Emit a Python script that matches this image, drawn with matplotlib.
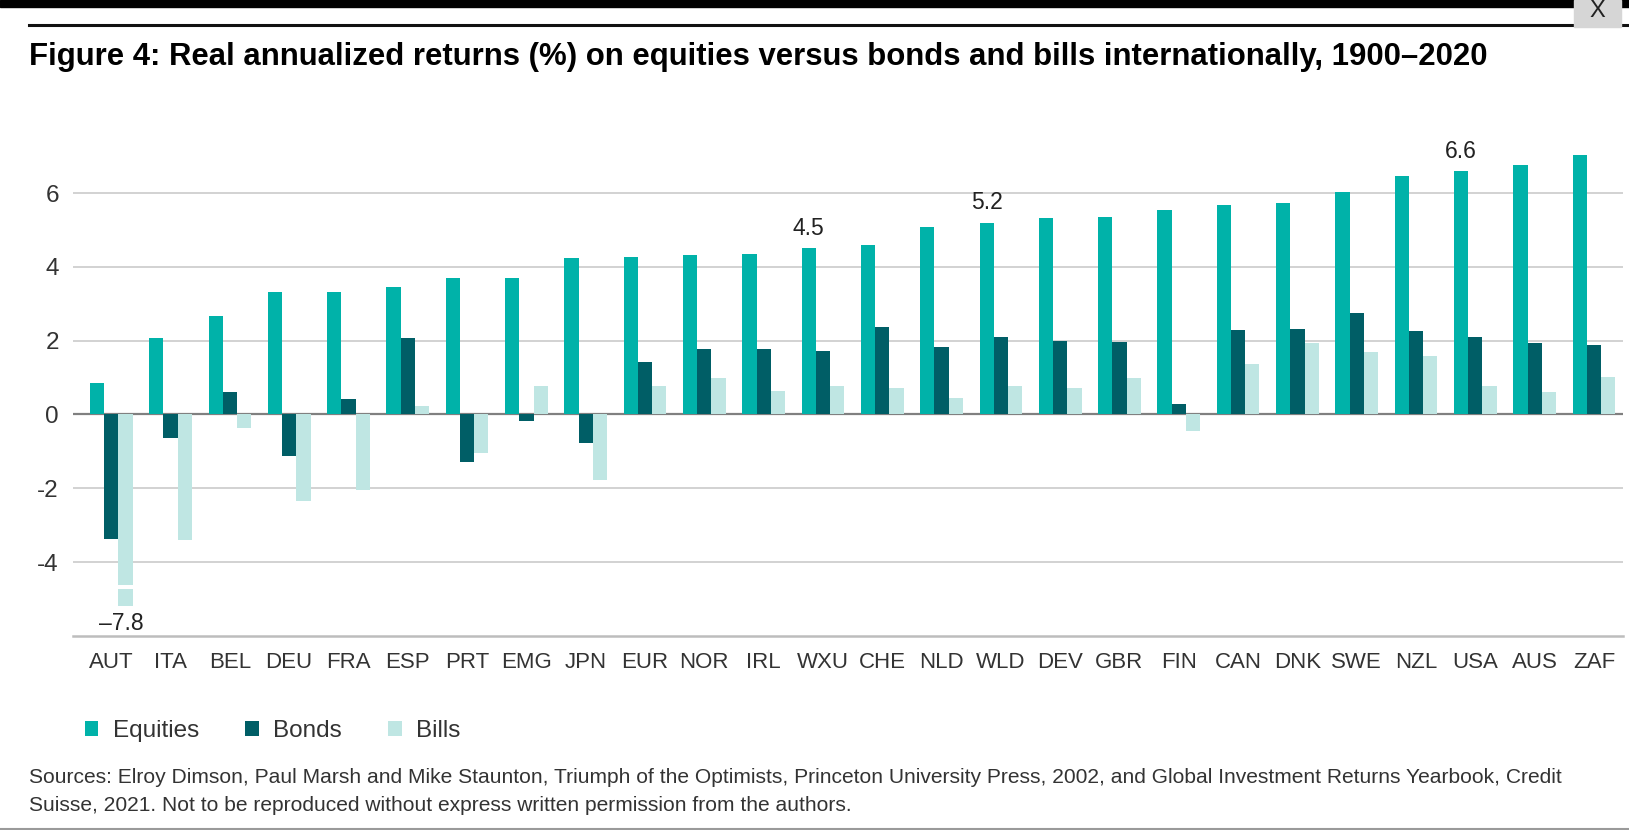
import numpy as np
import matplotlib.pyplot as plt
from matplotlib.patches import Rectangle
from matplotlib.lines import Line2D

countries = ["AUT", "ITA", "BEL", "DEU", "FRA", "ESP", "PRT", "EMG", "JPN", "EUR",
             "NOR", "IRL", "WXU", "CHE", "NLD", "WLD", "DEV", "GBR", "FIN", "CAN",
             "DNK", "SWE", "NZL", "USA", "AUS", "ZAF"]
equities = [0.85, 2.08, 2.66, 3.32, 3.32, 3.45, 3.69, 3.69, 4.23, 4.26,
            4.33, 4.34, 4.5, 4.59, 5.07, 5.2, 5.33, 5.35, 5.53, 5.67,
            5.73, 6.02, 6.45, 6.6, 6.75, 7.04]
bonds = [-3.37, -0.64, 0.62, -1.12, 0.41, 2.06, -1.29, -0.19, -0.77, 1.43,
         1.78, 1.76, 1.71, 2.36, 1.83, 2.10, 2.00, 1.95, 0.29, 2.29,
         2.32, 2.75, 2.27, 2.09, 1.93, 1.88]
bills = [-7.8, -3.40, -0.36, -2.34, -2.05, 0.23, -1.05, 0.76, -1.79, 0.77,
         0.98, 0.64, 0.77, 0.71, 0.44, 0.77, 0.72, 1.00, -0.46, 1.38,
         1.93, 1.68, 1.59, 0.77, 0.62, 1.01]
series_names = ["Equities", "Bonds", "Bills"]
labelled_equities = ["WXU", "WLD", "USA"]
yticks = [-4, -2, 0, 2, 4, 6]

title = "Figure 4: Real annualized returns (%) on equities versus bonds and bills internationally, 1900\u20132020"
source_1 = ("Sources: Elroy Dimson, Paul Marsh and Mike Staunton, Triumph of the Optimists, Princeton University "
            "Press, 2002, and Global Investment Returns Yearbook, Credit")
source_2 = "Suisse, 2021. Not to be reproduced without express written permission from the authors."

colors = ["#00B2A9", "#005E66", "#BFE6E3"]
axis_floor = -6.0
bar_floor = -5.2      # truncated bars stop here
break_at = -4.62

plt.rcParams["font.family"] = ["Liberation Sans", "DejaVu Sans"]
plt.rcParams["axes.unicode_minus"] = False

W, H = 1629, 830
fig = plt.figure(figsize=(W / 100, H / 100), dpi=100)
ax = fig.add_axes([72.7 / W, 1 - 635.8 / H, (1623 - 72.7) / W, (635.8 - 141.4) / H])

x = np.arange(len(countries))
bw = 0.24
handles = []
for k, vals in enumerate([equities, bonds, bills]):
    vals = np.array(vals)
    shown = np.maximum(vals, bar_floor)
    b = ax.bar(x + (k - 1) * bw, shown, bw, color=colors[k], label=series_names[k], zorder=2)
    handles.append(b)
    cut = vals < bar_floor
    if cut.any():
        # white break across the truncated bar
        ax.bar(x[cut] + (k - 1) * bw, np.full(cut.sum(), 0.12), bw * 1.05,
               bottom=break_at - 0.12, color="white", zorder=3)
        for xi, v in zip(x[cut], vals[cut]):
            ax.annotate(f"{v:.1f}".replace("-", "\u2013"), (xi + (k - 1) * bw, bar_floor),
                        xytext=(-3, -4), textcoords="offset points", ha="center", va="top",
                        fontsize=16.5, color="#222222")

for c in labelled_equities:
    i = countries.index(c)
    ax.annotate(f"{equities[i]:.1f}", (x[i] - bw, equities[i]), xytext=(0, 6),
                textcoords="offset points", ha="center", va="bottom", fontsize=16.5,
                color="#222222")

ax.axhline(0, color="#808080", lw=1.6, zorder=1.5)
ax.set_ylim(axis_floor, 7.4)
ax.set_xlim(-0.65, len(countries) - 0.51)
ax.set_yticks(yticks)
ax.set_xticks(x)
ax.set_xticklabels(countries)
ax.yaxis.grid(True, color="#CFCFCF", lw=1.3)
ax.set_axisbelow(True)
for s in ["top", "right", "left"]:
    ax.spines[s].set_visible(False)
ax.spines["bottom"].set_color("#BDBDBD")
ax.spines["bottom"].set_linewidth(1.8)
ax.tick_params(axis="x", length=0, pad=12, labelsize=16, labelcolor="#333333")
ax.tick_params(axis="y", length=0, pad=10, labelsize=17.5, labelcolor="#333333")

ax.legend(handles=handles, loc="center left", bbox_to_anchor=(85 / W, 1 - 731 / H),
          bbox_transform=fig.transFigure, ncol=3, frameon=False, borderpad=0,
          borderaxespad=0, handlelength=0.55, handleheight=0.55, handletextpad=0.6,
          columnspacing=1.9, fontsize=17.5, labelcolor="#333333")

# header decorations
fig.patches.append(Rectangle((0, 1 - 7 / H), 1, 7 / H, transform=fig.transFigure,
                             color="black", zorder=5))
fig.add_artist(Line2D([29 / W, 1], [1 - 25 / H] * 2, transform=fig.transFigure,
                      color="#111111", lw=2.2))
fig.add_artist(Line2D([0, 1], [1.5 / H] * 2, transform=fig.transFigure,
                      color="#9A9A9A", lw=1.5))
fig.patches.append(Rectangle((1574 / W, 1 - 27 / H), 47 / W, 27 / H, transform=fig.transFigure,
                             color="#D6D6D6", zorder=6))
fig.text(1597.5 / W, 1 - 11 / H, "X", ha="center", va="center", fontsize=17,
         color="#222222", zorder=7)

t = fig.text(29 / W, 1 - 57 / H, title, ha="left", va="center", fontsize=22,
             fontweight="bold", color="black")
s1 = fig.text(29 / W, 1 - 777 / H, source_1, ha="left", va="center", fontsize=14,
              color="#333333")
s2 = fig.text(29 / W, 1 - 805 / H, source_2, ha="left", va="center", fontsize=14,
              color="#333333")

# fit text widths to the reference
fig.canvas.draw()
r = fig.canvas.get_renderer()
t.set_fontsize(t.get_fontsize() * 1460 / t.get_window_extent(r).width)
fs = s1.get_fontsize() * 1537 / s1.get_window_extent(r).width
s1.set_fontsize(fs)
s2.set_fontsize(fs)

fig.savefig("out.png", dpi=100)
